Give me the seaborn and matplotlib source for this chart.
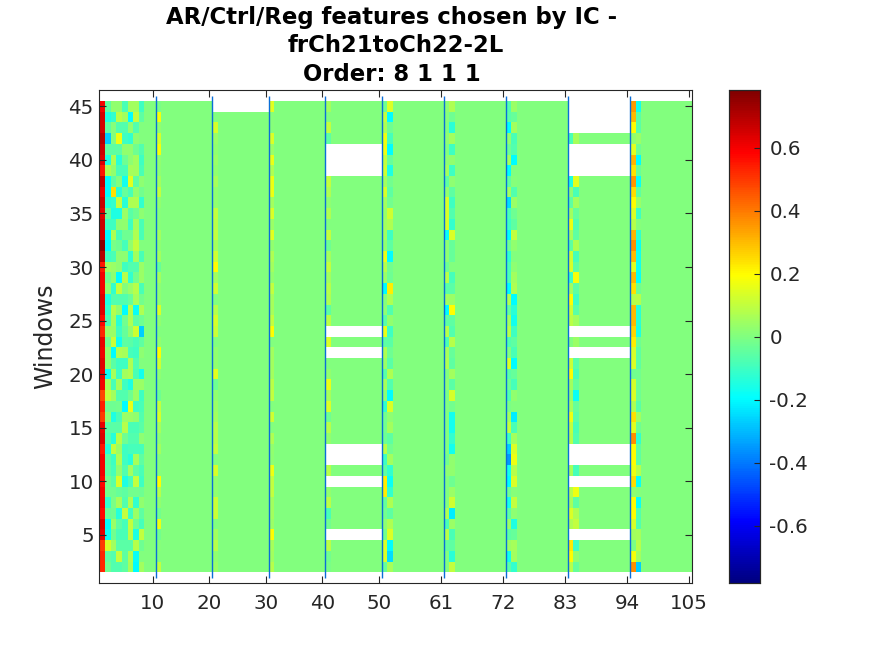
import numpy as np
import pandas as pd
import matplotlib
matplotlib.use("Agg")
import matplotlib.pyplot as plt
from matplotlib.colors import LinearSegmentedColormap
import seaborn as sns

plt.rcParams['axes.unicode_minus'] = False

N = None
title_lines = ["AR/Ctrl/Reg features chosen by IC - ", "frCh21toCh22-2L", "Order: 8 1 1 1 "]
x_ticks = [10, 20, 30, 40, 50, 61, 72, 83, 94, 105]
y_ticks = [5, 10, 15, 20, 25, 30, 35, 40, 45]
cbar_ticks = [-0.6, -0.4, -0.2, 0, 0.2, 0.4, 0.6]
cbar_labels = ["-0.6", "-0.4", "-0.2", "0", "0.2", "0.4", "0.6"]
clim = 0.782

# every list runs from window 45 down to window 2
col1 = [.6, .65, .65, .7, .66, .64, .55, .68, .62, .67, .63, .66, .65, .76, .7, .55, .6, .6, .64, .63, .57, .53,
        .62, .61, .63, .62, .6, .48, .54, .5, .62, .64, .55, .6, .6, .58, .6, .61, .58, .65, .63, .5, .53, .53]
cols2to8 = [
    [-.05, .03, .03, -.08, .05, .05, -.1], [-.15, -.12, .09, .05, -.2, .1, -.05],
    [-.05, .01, -.07, -.07, .03, -.07, 0], [-.27, 0, .17, -.1, -.12, .02, 0],
    [-.05, -.05, -.05, .03, .03, -.03, -.07], [-.15, .07, -.13, -.03, .02, .05, -.1],
    [.07, .03, -.08, -.08, .06, .05, -.08], [-.2, -.05, 0, -.17, .15, -.05, .02],
    [-.2, .24, -.13, -.04, -.08, .03, -.02], [-.14, -.12, .1, -.13, .07, .07, -.12],
    [-.04, -.15, -.15, .04, -.06, -.03, .02], [-.1, -.1, .02, .03, -.1, .05, -.08],
    [-.2, .07, -.08, -.03, -.03, .07, -.08], [-.2, -.01, -.03, -.09, .03, .1, 0],
    [-.1, -.08, .02, .02, -.12, .05, -.08], [.05, .04, .02, -.1, -.07, -.07, .04],
    [-.03, .02, -.2, .08, -.12, -.02, .04], [.02, -.12, .1, 0, .04, .08, -.08],
    [-.15, -.07, -.07, -.07, -.04, .06, -.02], [-.12, .08, .03, -.2, .08, -.18, .07],
    [-.08, .06, -.13, -.02, .07, -.05, -.03], [.04, .04, -.1, -.04, .03, .12, -.27],
    [-.03, .11, -.17, -.05, -.06, -.08, -.05], [.03, -.2, .07, .06, -.09, -.1, .02],
    [.03, -.06, -.1, -.1, .07, -.07, 0], [-.18, .06, -.1, .05, .07, -.08, -.17],
    [.06, -.08, .06, -.1, -.15, .04, .04], [.1, .05, -.07, -.07, -.03, .04, -.1],
    [-.03, -.03, -.02, -.2, .16, -.1, -.08], [.02, -.15, -.08, .04, .04, .03, -.07],
    [-.06, -.06, -.06, .08, -.08, -.08, -.06], [-.07, -.14, .08, -.03, -.07, -.07, .02],
    [-.14, .1, .04, -.1, -.09, -.09, -.09], [-.06, -.1, .07, -.1, -.14, .06, -.05],
    [-.05, -.09, .03, -.07, .05, -.05, -.08], [-.02, -.06, .13, -.15, -.09, .1, -.1],
    [-.02, -.02, -.04, -.05, -.02, -.02, -.03], [-.12, -.01, .06, -.07, .07, -.12, .03],
    [-.04, -.03, -.14, .1, -.1, .04, -.05], [-.2, .04, -.05, -.09, .1, -.03, -.09],
    [-.18, -.02, -.08, -.08, .09, -.15, .1], [.13, .05, -.06, -.06, -.06, .08, -.03],
    [-.05, -.07, .1, -.05, .07, -.18, 0], [-.03, -.07, -.07, -.05, .06, -.2, .05],
]
col11 = [-.01, .18, .03, .13, .18, .03, .02, .05, .1, .03, .01, .01, .05, .02, .05, -.04, .05, .02, .03, .14, .03, 0,
         .03, .2, .12, .02, 0, -.03, .1, .13, .06, .02, .05, .01, .01, .2, .08, .03, -.02, .17, -.02, .01, 0, .1]
col21 = [N, 0, .13, .04, .03, .04, .03, .06, .03, .03, .1, .09, .1, .06, .12, .2, .05, .12, 0, .08, .13, .11,
         0, .03, .03, .15, -.03, .03, .04, .05, .08, .08, .1, 0, .13, .03, .03, .11, .11, 0, .05, .08, .03, .04]
col31 = [.15, .01, .01, .14, .04, .16, .07, .17, .17, .05, .14, .04, .15, .03, .07, .05, .03, .1, .06, .06, .1, .2,
         0, .05, .05, .05, .09, .1, 0, .12, 0, .07, .03, .02, .17, .1, .1, .05, .05, .04, .2, .06, .05, .08]
col41 = [.05, 0, .1, -.05, N, N, N, .1, .07, .02, .07, 0, .1, -.03, .05, .1, .05, .08, .07, -.05, .09, N,
         .14, N, 0, .03, .16, .06, .14, -.03, .08, .03, N, N, .08, N, .03, .09, -.08, -.02, N, .09, -.02, -.01]
col51 = [-.03, .1, .07, .17, .17, .1, .12, .05, .13, .05, .04, .05, .05, .03, .16, .08, .04, -.2, .01, .02, -.06, .16,
         -.05, .07, .04, -.06, .06, .02, -.12, -.02, -.02, -.03, .09, -.1, -.05, .22, .22, -.04, -.02, .02, -.02, .14, .14, -.04]
col52 = [.14, -.2, -.03, -.09, -.2, -.04, -.15, -.02, -.05, -.02, .12, .07, -.1, -.05, -.2, -.02, -.03, .22, .07, -.07, .03, -.1,
         -.06, -.03, -.06, .07, -.07, -.2, .14, .02, .05, -.05, -.02, .05, -.12, -.18, -.12, .07, -.05, .07, .14, -.2, -.25, .06]
col62 = [.02, .01, 0, .02, 0, .02, .05, -.05, .03, .13, .13, .13, -.18, .02, .02, -.03, .08, -.06, .05, -.2, -.05, .08,
         -.08, .06, .07, 0, .02, -.01, 0, 0, 0, 0, 0, -.02, .02, 0, 0, 0, .07, -.08, .08, -.04, 0, 0]
col63 = [.07, -.03, -.13, .05, -.1, .03, -.1, .02, -.05, -.1, -.07, -.12, .14, -.04, -.04, 0, -.09, -.06, .04, .2, -.05, -.07,
         .08, -.04, -.05, .05, -.06, .13, -.02, -.17, -.17, -.12, -.17, .03, .03, -.03, .04, .12, -.22, .04, -.08, -.05, -.13, .1]
col73 = [-.07, -.06, -.2, .03, -.03, .05, -.2, -.05, .05, -.25, -.08, -.1, -.2, -.03, -.12, -.08, -.08, -.2, .07, -.04, .05, .08,
         -.07, 0, .14, -.06, -.03, -.07, -.01, .05, .1, -.1, -.27, -.35, -.17, -.2, -.03, -.16, -.05, .04, -.05, .04, -.17, -.06]
col74 = [.04, -.04, .05, -.08, -.07, -.2, 0, .01, -.07, .04, -.03, -.05, .1, .03, 0, .02, .05, .07, -.2, -.13, -.17, -.1,
         -.05, -.08, -.2, -.04, -.09, .03, 0, -.22, -.08, .05, .14, .17, .08, .14, .01, .1, .02, -.15, -.04, .06, .05, -.12]
col84 = [N, N, N, -.08, N, N, N, -.15, .02, -.05, .05, .17, .06, -.05, .12, .13, -.1, .05, .2, .12, .09, N,
         0, N, .11, .2, .05, .03, .06, .17, .1, .08, N, N, .06, N, .08, .06, .14, .07, N, .23, .2, .08]
col85 = [N, N, N, .06, N, N, N, .15, -.08, .05, -.04, -.07, -.05, .07, -.09, -.05, .18, -.05, -.1, -.06, .05, N,
         .04, N, -.06, -.08, -.04, -.18, -.04, -.06, -.08, -.07, N, N, -.09, N, .17, -.05, .07, .1, N, -.1, .03, -.04]
col95 = [.35, .3, .2, .03, .15, .31, .24, .36, .25, .2, .14, .08, .31, .37, .3, .15, .3, .24, .08, .3, .3, .26,
         .22, .13, .14, -.02, .13, .14, .07, .24, .15, .37, .2, .2, .17, .25, .03, .2, .2, .13, .05, -.01, .18, .37]
col96 = [-.17, -.06, -.06, .04, -.03, -.2, -.04, -.18, -.05, .04, -.1, .01, -.12, -.18, -.17, -.17, -.18, -.03, .08, -.13, -.13, -.15,
         -.03, -.05, -.05, -.02, -.02, -.03, -.06, .05, -.03, -.12, -.05, -.05, .08, -.18, .01, -.18, -.07, -.07, .06, .08, .05, -.27]
blank_windows_block41 = [41, 40, 39, 24, 22, 13, 12, 10, 5]
blank_windows_block84 = [45, 44, 43, 41, 40, 39, 24, 22, 13, 12, 10, 5]
blank_windows_block21 = [45]

# matrix: rows are windows 1..46, columns are features 1..105
windows_desc = np.arange(45, 1, -1)
matrix = np.full((46, 105), np.nan)
matrix[windows_desc - 1, :] = 0.0
rows = windows_desc - 1
matrix[rows, 0] = col1
matrix[rows, 1:8] = np.array(cols2to8, dtype=float)
for col, vals in [(11, col11), (21, col21), (31, col31), (41, col41), (51, col51), (52, col52), (62, col62),
                  (63, col63), (73, col73), (74, col74), (84, col84), (85, col85), (95, col95), (96, col96)]:
    matrix[rows, col - 1] = np.array(vals, dtype=float)
for w in blank_windows_block41:
    matrix[w - 1, 40:50] = np.nan
for w in blank_windows_block84:
    matrix[w - 1, 83:94] = np.nan
for w in blank_windows_block21:
    matrix[w - 1, 20:30] = np.nan
df = pd.DataFrame(matrix, index=np.arange(1, 47), columns=np.arange(1, 106))

jet_like = LinearSegmentedColormap.from_list(
    "jet_like",
    [(0, (0, 0, .5)), (.125, (0, 0, 1)), (.375, (0, 1, 1)), (.625, (1, 1, 0)), (.875, (1, 0, 0)), (1, (.5, 0, 0))],
    N=256,
)

W, H = 875, 656
fig = plt.figure(figsize=(W / 100, H / 100), dpi=100, facecolor="white")
ax = fig.add_axes([99.3 / W, 1 - 583 / H, (692 - 99.3) / W, (583 - 90.3) / H])
cax = fig.add_axes([728.8 / W, 1 - 583 / H, 31.5 / W, (583 - 90.3) / H])

sns.heatmap(df, cmap=jet_like, vmin=-clim, vmax=clim, ax=ax, cbar_ax=cax,
            xticklabels=False, yticklabels=False)
ax.set_xlim(0, 105)
ax.set_ylim(0, 46)
ax.set_facecolor("white")

ink = "#262626"
ax.vlines(x_ticks[:-1], 0.5, 45.5, colors="#0a6ed8", linewidth=1.0, zorder=3)
ax.set_xticks([t - 0.5 for t in x_ticks])
ax.set_xticklabels([str(t) for t in x_ticks])
ax.set_yticks([w - 0.5 for w in y_ticks])
ax.set_yticklabels([str(t) for t in y_ticks], rotation=0)
ax.tick_params(axis="both", which="major", direction="in", top=True, right=True, length=5, width=0.8,
               color=ink, labelcolor=ink, labelsize=14.3)
ax.tick_params(axis="x", pad=8)
ax.tick_params(axis="y", pad=4)
for s in ax.spines.values():
    s.set_visible(True)
    s.set_color(ink)
    s.set_linewidth(0.8)
ax.set_xlabel("")
ax.set_ylabel("Windows", fontsize=17, color=ink, labelpad=8)
ax.set_title("\n".join(title_lines), fontsize=16.4, fontweight="bold", color="black", pad=7, linespacing=1.29)

cax.set_yticks(cbar_ticks)
cax.set_yticklabels(cbar_labels)
cax.tick_params(axis="y", direction="in", length=4, width=0.8, color=ink, labelsize=14.3, labelcolor=ink,
                pad=6.5, right=True, left=False)
for s in cax.spines.values():
    s.set_visible(True)
    s.set_color(ink)
    s.set_linewidth(0.8)

fig.savefig("out.png", dpi=100, facecolor="white")
